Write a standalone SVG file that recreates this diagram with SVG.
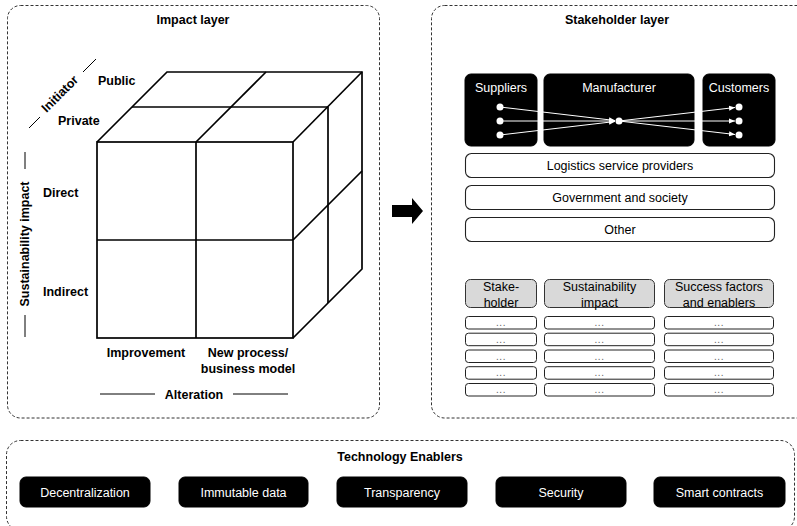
<svg xmlns="http://www.w3.org/2000/svg" width="797" height="526" viewBox="0 0 797 526">
<style>
text{font-family:"Liberation Sans",Arial,sans-serif;fill:#000}
.b{font-weight:bold;font-size:12.5px}
.r{font-size:12.5px}
.w{fill:#fff;font-size:12.5px}
.c{text-anchor:middle}
.layer{fill:none;stroke:#333;stroke-width:1;stroke-dasharray:3 2}
.cube{fill:none;stroke:#000;stroke-width:1.7;stroke-linejoin:miter}
.blk{fill:#000;stroke:#000}
.wbox{fill:#fff;stroke:#222;stroke-width:1.1}
.hdr{fill:#d9d9d9;stroke:#333;stroke-width:1}
.row{fill:#fff;stroke:#222;stroke-width:1}
.dots{font-size:10px;fill:#666;letter-spacing:0.5px}
.flow{stroke:#fff;stroke-width:1;fill:none}
.ax{stroke:#000;stroke-width:1}
</style>
<defs>
<marker id="wa" markerUnits="userSpaceOnUse" markerWidth="7" markerHeight="6" refX="6" refY="3" orient="auto">
<path d="M0,0.5 L6,3 L0,5.5 Z" fill="#fff"/>
</marker>
</defs>
<rect width="797" height="526" fill="#fff"/>

<g id="impact-layer">
<rect class="layer" x="7.5" y="5.5" width="372" height="412.5" rx="13"/>
<text class="b c" x="193" y="24">Impact layer</text>
</g>

<g id="cube">
<rect class="cube" x="97" y="142" width="196" height="196"/>
<line class="cube" x1="196" y1="142" x2="196" y2="338"/>
<line class="cube" x1="97" y1="240" x2="293" y2="240"/>
<polyline class="cube" points="97,142 167,72 362,72 362,269 293,338"/>
<line class="cube" x1="293" y1="142" x2="362" y2="72"/>
<line class="cube" x1="196" y1="142" x2="266" y2="72"/>
<line class="cube" x1="132" y1="107" x2="328" y2="107"/>
<line class="cube" x1="328" y1="107" x2="328" y2="303"/>
<line class="cube" x1="293" y1="240" x2="362" y2="171"/>
</g>

<g id="axis-labels">
<text class="b" x="98" y="85">Public</text>
<text class="b" x="58" y="125">Private</text>
<text class="b" x="43" y="197">Direct</text>
<text class="b" x="43" y="295.5">Indirect</text>
<text class="b c" x="146" y="357">Improvement</text>
<text class="b c" x="248" y="357">New process/</text>
<text class="b c" x="248" y="372.5">business model</text>
<text class="b c" x="194" y="398.5">Alteration</text>
<line class="ax" x1="100" y1="394" x2="155" y2="394"/>
<line class="ax" x1="233" y1="394" x2="288" y2="394"/>
<text class="b c" transform="translate(60,94) rotate(-45)" x="0" y="4">Initiator</text>
<line class="ax" x1="29" y1="128" x2="40" y2="117"/>
<line class="ax" x1="83" y1="72" x2="96" y2="59"/>
<text class="b c" transform="translate(25,244) rotate(-90)" x="0" y="4">Sustainability impact</text>
<line class="ax" x1="25" y1="152" x2="25" y2="169"/>
<line class="ax" x1="25" y1="315" x2="25" y2="337"/>
</g>

<g id="connectors">
<polygon points="392,205 412,205 412,198 423,211 412,224 412,217 392,217" fill="#000"/>
</g>

<g id="stakeholder-layer">
<rect class="layer" x="431.5" y="5.5" width="380" height="412.5" rx="13"/>
<text class="b c" x="617" y="24">Stakeholder layer</text>
</g>

<g id="suppliers">
<rect class="blk" x="465" y="74" width="72" height="72" rx="6"/>
<text class="w c" x="501" y="92">Suppliers</text>
</g>
<g id="manufacturer">
<rect class="blk" x="544" y="74" width="150" height="72" rx="6"/>
<text class="w c" x="619" y="92">Manufacturer</text>
</g>
<g id="customers">
<rect class="blk" x="703" y="74" width="72" height="72" rx="6"/>
<text class="w c" x="739" y="92">Customers</text>
</g>
<g id="flows">
<line class="flow" x1="500" y1="107" x2="615" y2="120.5" marker-end="url(#wa)"/>
<line class="flow" x1="500" y1="121" x2="615" y2="121" marker-end="url(#wa)"/>
<line class="flow" x1="500" y1="135" x2="615" y2="121.5" marker-end="url(#wa)"/>
<line class="flow" x1="619" y1="121" x2="735" y2="107.5" marker-end="url(#wa)"/>
<line class="flow" x1="619" y1="121" x2="735" y2="121" marker-end="url(#wa)"/>
<line class="flow" x1="619" y1="121" x2="735" y2="134.5" marker-end="url(#wa)"/>
<g fill="#fff">
<circle cx="500" cy="107" r="3.5"/><circle cx="500" cy="121" r="3.5"/><circle cx="500" cy="135" r="3.5"/>
<circle cx="619" cy="121" r="3.5"/>
<circle cx="739" cy="107" r="3.5"/><circle cx="739" cy="121" r="3.5"/><circle cx="739" cy="135" r="3.5"/>
</g>
</g>

<g id="logistics">
<rect class="wbox" x="465.5" y="153.5" width="309" height="24" rx="6"/>
<text class="r c" x="620" y="170">Logistics service providers</text>
</g>
<g id="government">
<rect class="wbox" x="465.5" y="185.5" width="309" height="24" rx="6"/>
<text class="r c" x="620" y="202">Government and society</text>
</g>
<g id="other">
<rect class="wbox" x="465.5" y="217.5" width="309" height="24" rx="6"/>
<text class="r c" x="620" y="234">Other</text>
</g>

<g id="table-header-stakeholder">
<rect class="hdr" x="465.5" y="279.5" width="71" height="28" rx="5"/>
<text class="r c" x="501" y="290.5">Stake-</text>
<text class="r c" x="501" y="307">holder</text>
</g>
<g id="table-header-impact">
<rect class="hdr" x="544.5" y="279.5" width="110" height="28" rx="5"/>
<text class="r c" x="599.5" y="290.5">Sustainability</text>
<text class="r c" x="599.5" y="307">impact</text>
</g>
<g id="table-header-factors">
<rect class="hdr" x="664.5" y="279.5" width="109" height="28" rx="5"/>
<text class="r c" x="719" y="290.5">Success factors</text>
<text class="r c" x="719" y="307">and enablers</text>
</g>

<g id="table-rows">
<g id="row1">
<rect class="row" x="465.5" y="316.5" width="71" height="12.5" rx="3"/>
<rect class="row" x="544.5" y="316.5" width="110" height="12.5" rx="3"/>
<rect class="row" x="664.5" y="316.5" width="109" height="12.5" rx="3"/>
<text class="dots c" x="501" y="326">...</text><text class="dots c" x="599.5" y="326">...</text><text class="dots c" x="719" y="326">...</text>
</g>
<g id="row2">
<rect class="row" x="465.5" y="333.2" width="71" height="12.5" rx="3"/>
<rect class="row" x="544.5" y="333.2" width="110" height="12.5" rx="3"/>
<rect class="row" x="664.5" y="333.2" width="109" height="12.5" rx="3"/>
<text class="dots c" x="501" y="342.7">...</text><text class="dots c" x="599.5" y="342.7">...</text><text class="dots c" x="719" y="342.7">...</text>
</g>
<g id="row3">
<rect class="row" x="465.5" y="350" width="71" height="12.5" rx="3"/>
<rect class="row" x="544.5" y="350" width="110" height="12.5" rx="3"/>
<rect class="row" x="664.5" y="350" width="109" height="12.5" rx="3"/>
<text class="dots c" x="501" y="359.5">...</text><text class="dots c" x="599.5" y="359.5">...</text><text class="dots c" x="719" y="359.5">...</text>
</g>
<g id="row4">
<rect class="row" x="465.5" y="366.7" width="71" height="12.5" rx="3"/>
<rect class="row" x="544.5" y="366.7" width="110" height="12.5" rx="3"/>
<rect class="row" x="664.5" y="366.7" width="109" height="12.5" rx="3"/>
<text class="dots c" x="501" y="376.2">...</text><text class="dots c" x="599.5" y="376.2">...</text><text class="dots c" x="719" y="376.2">...</text>
</g>
<g id="row5">
<rect class="row" x="465.5" y="383.5" width="71" height="12.5" rx="3"/>
<rect class="row" x="544.5" y="383.5" width="110" height="12.5" rx="3"/>
<rect class="row" x="664.5" y="383.5" width="109" height="12.5" rx="3"/>
<text class="dots c" x="501" y="393">...</text><text class="dots c" x="599.5" y="393">...</text><text class="dots c" x="719" y="393">...</text>
</g>
</g>

<g id="technology-enablers">
<rect class="layer" x="6.5" y="440.5" width="788" height="90" rx="14"/>
<text class="b c" x="400" y="461">Technology Enablers</text>
</g>
<g id="decentralization">
<rect class="blk" x="20" y="477" width="130" height="30" rx="6"/>
<text class="w c" x="85" y="496.5">Decentralization</text>
</g>
<g id="immutable-data">
<rect class="blk" x="179" y="477" width="129" height="30" rx="6"/>
<text class="w c" x="243.5" y="496.5">Immutable data</text>
</g>
<g id="transparency">
<rect class="blk" x="337" y="477" width="130" height="30" rx="6"/>
<text class="w c" x="402" y="496.5">Transparency</text>
</g>
<g id="security">
<rect class="blk" x="496" y="477" width="130" height="30" rx="6"/>
<text class="w c" x="561" y="496.5">Security</text>
</g>
<g id="smart-contracts">
<rect class="blk" x="654" y="477" width="131" height="30" rx="6"/>
<text class="w c" x="719.5" y="496.5">Smart contracts</text>
</g>
</svg>
